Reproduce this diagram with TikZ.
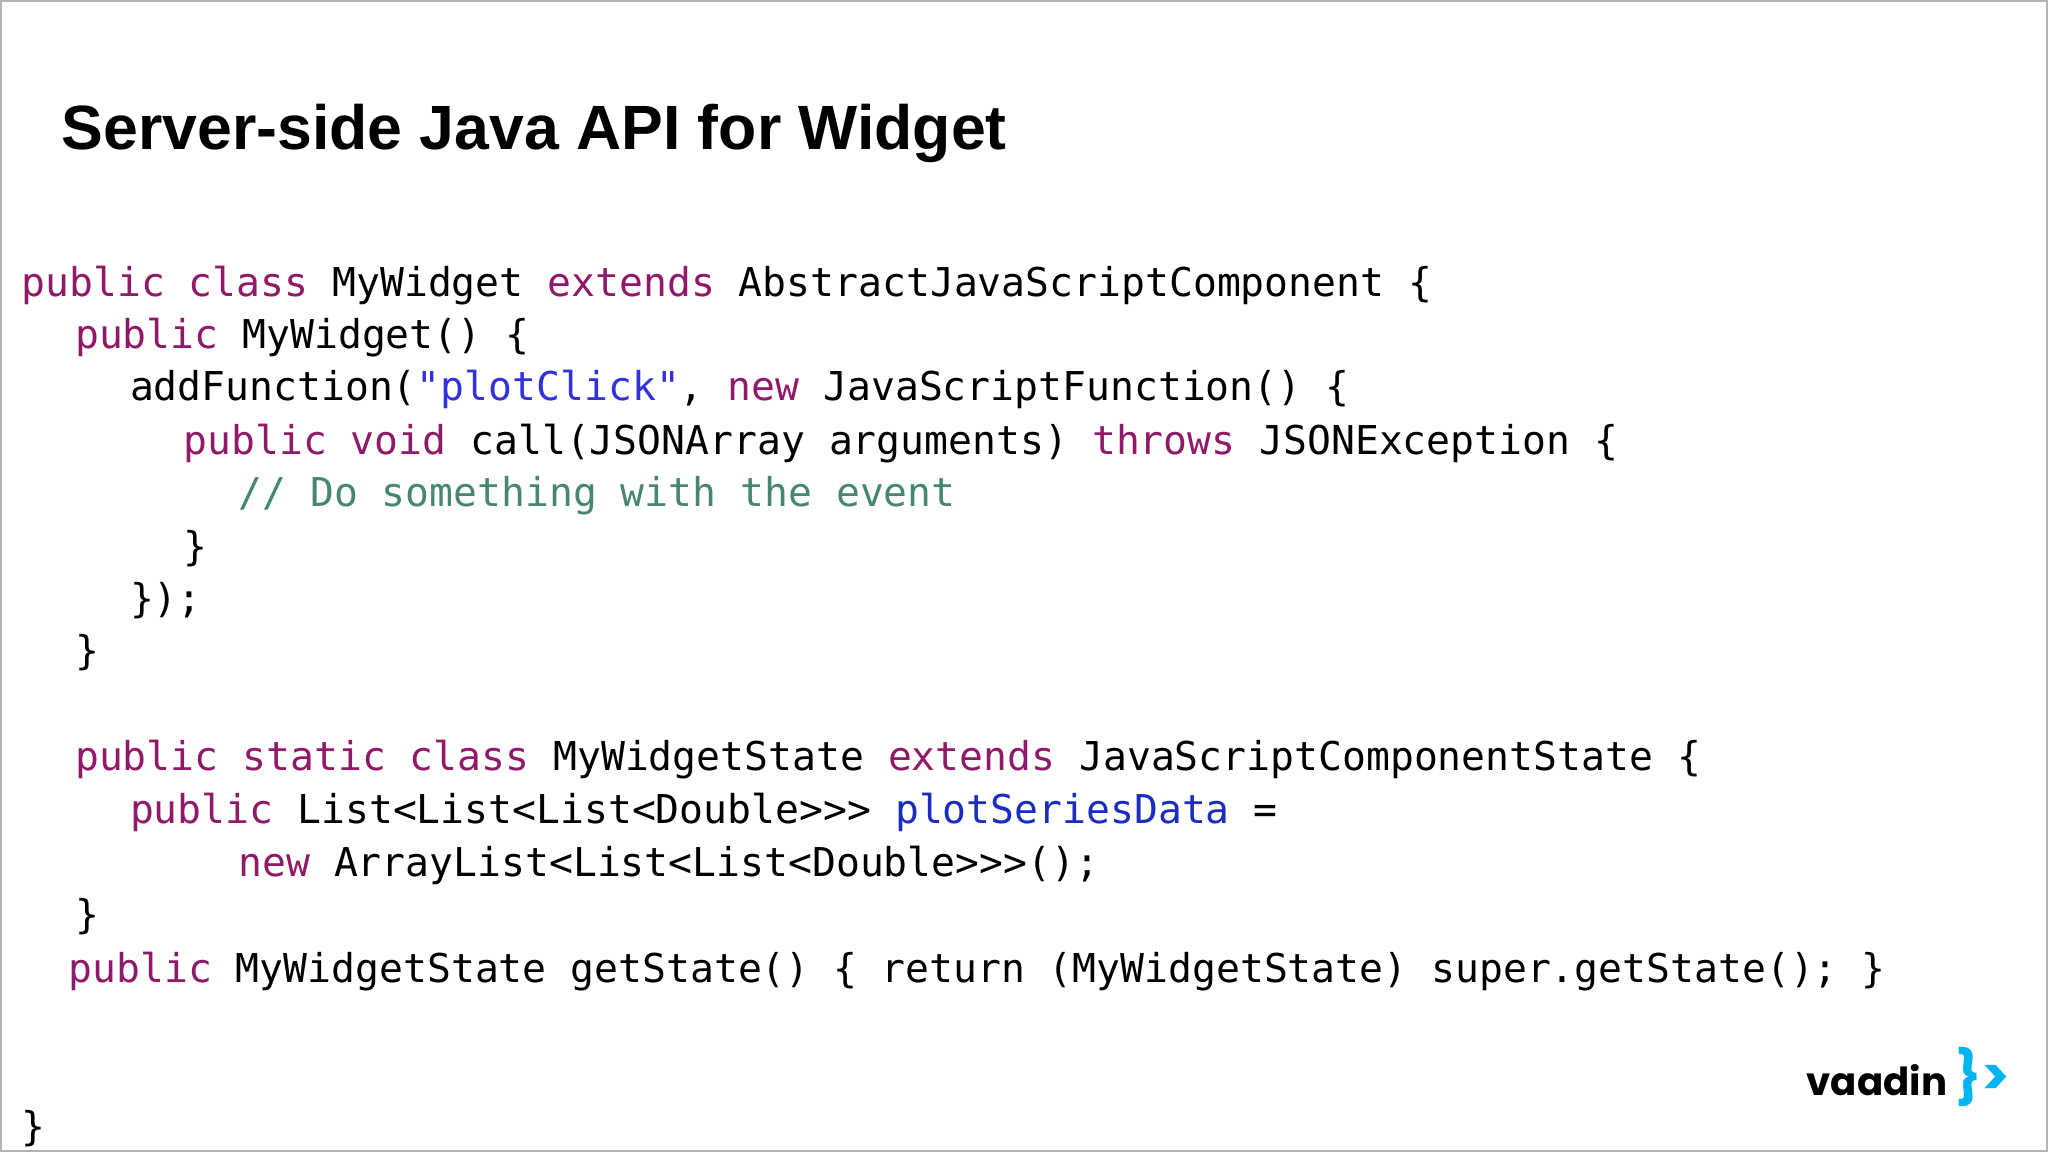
\documentclass[tikz,border=0pt]{standalone}
\usepackage{fontspec}
\setmainfont{Liberation Sans}
\setmonofont{DejaVu Sans Mono}
\newfontfamily\logofont{Poppins}
\definecolor{kw}{RGB}{145,25,105}
\definecolor{str}{RGB}{50,50,220}
\definecolor{fld}{RGB}{25,45,195}
\definecolor{cmt}{RGB}{70,135,110}
\definecolor{cyanv}{RGB}{0,180,240}
\newcommand{\K}[1]{\textcolor{kw}{#1}}
\tikzset{code/.style={anchor=mid west,inner sep=0pt,font=\ttfamily\fontsize{11.3}{13}\selectfont}}
\begin{document}
\begin{tikzpicture}
\useasboundingbox (0,0) rectangle (20.48,11.52);
\draw[gray!60,line width=0.6pt] (0.01,0.01) rectangle (20.47,11.51);
\node[anchor=mid west,inner sep=0pt,font=\bfseries\fontsize{17.8}{21}\selectfont] (title) at (0.61,10.12) {Server-side Java API for Widget};
\begin{scope}[yshift=-0.05cm]
\node[code] (l1) at (0.209,8.699) {\K{public class} MyWidget \K{extends} AbstractJavaScriptComponent \{};
\node[code] (l2) at (0.744,8.177) {\K{public} MyWidget() \{};
\node[code] (l3) at (1.293,7.654) {addFunction(\textcolor{str}{"plotClick"}, \K{new} JavaScriptFunction() \{};
\node[code] (l4) at (1.828,7.119) {\K{public void} call(JSONArray arguments) \K{throws} JSONException \{};
\node[code] (l5) at (2.377,6.596) {\textcolor{cmt}{// Do something with the event}};
\node[code] (l6) at (1.828,6.061) {\}};
\node[code] (l7) at (1.293,5.539) {\});};
\node[code] (l8) at (0.744,5.016) {\}};
\node[code] (l9) at (0.744,3.958) {\K{public static class} MyWidgetState \K{extends} JavaScriptComponentState \{};
\node[code] (l10) at (1.293,3.423) {\K{public} List<List<List<Double>{}>{}> \textcolor{fld}{plotSeriesData} =};
\node[code] (l11) at (2.377,2.900) {\K{new} ArrayList<List<List<Double>{}>{}>();};
\node[code] (l12) at (0.744,2.378) {\}};
\node[code] (l13) at (0.679,1.842) {\K{public} MyWidgetState getState() \{ return (MyWidgetState) super.getState(); \}};
\node[code] (l14) at (0.209,0.262) {\}};
\end{scope}
\node[anchor=mid west,inner sep=0pt,font=\logofont\bfseries\fontsize{11}{13}\selectfont] (logo) at (18.06,0.655) {vaadin};
\node[anchor=mid west,inner sep=0pt,text=cyanv,font=\logofont\bfseries\fontsize{15}{17}\selectfont] (logo2) at (logo.mid east) {\kern2pt\}>};
\end{tikzpicture}
\end{document}
